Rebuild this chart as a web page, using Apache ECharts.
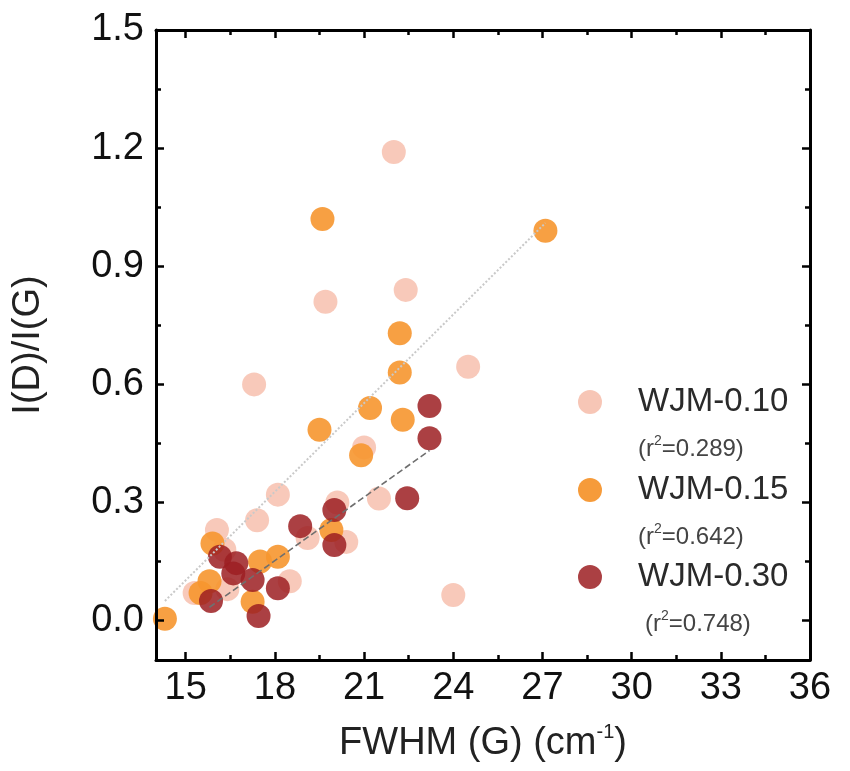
<!DOCTYPE html>
<html>
<head>
<meta charset="utf-8">
<script src="https://cdn.jsdelivr.net/npm/echarts@6/dist/echarts.min.js"></script>
<style>
  html, body { margin: 0; padding: 0; background: #fff; }
  #chart { width: 850px; height: 771px; }
</style>
</head>
<body>
<div id="chart"></div>
<script>
// Series names and goodness of fit shown in the legend
const seriesNames = ['WJM-0.10', 'WJM-0.15', 'WJM-0.30'];
const rSquared = ['0.289', '0.642', '0.748'];

// Tick positions
const xMajorTicks = [15, 18, 21, 24, 27, 30, 33, 36];
const xMinorTicks = [16.5, 19.5, 22.5, 25.5, 28.5, 31.5, 34.5];
const yMajorTicks = [0, 0.3, 0.6, 0.9, 1.2, 1.5];
const yMinorTicks = [0.15, 0.45, 0.75, 1.05, 1.35];

// FWHM(G) [cm^-1] vs I(D)/I(G)
const wjm010 = [
  [22.0, 1.19], [19.7, 0.81], [22.4, 0.84], [24.5, 0.645], [17.3, 0.60],
  [21.0, 0.44], [18.1, 0.32], [17.4, 0.255], [16.05, 0.23], [21.5, 0.31],
  [20.1, 0.30], [19.1, 0.21], [20.4, 0.20], [16.3, 0.18], [18.5, 0.10],
  [16.4, 0.08], [15.3, 0.07], [24.0, 0.065]
];
const wjm015 = [
  [19.6, 1.02], [27.1, 0.99], [22.2, 0.73], [22.2, 0.63], [21.2, 0.54],
  [22.3, 0.51], [19.5, 0.485], [20.9, 0.42], [19.9, 0.23], [15.9, 0.196],
  [18.1, 0.162], [17.5, 0.15], [15.8, 0.10], [15.5, 0.07], [17.25, 0.048],
  [14.3, 0.005]
];
const wjm030 = [
  [23.2, 0.545], [23.2, 0.463], [22.45, 0.311], [20.0, 0.281], [18.85, 0.24],
  [20.0, 0.192], [16.15, 0.162], [16.7, 0.146], [16.6, 0.12], [17.25, 0.103],
  [18.1, 0.082], [15.85, 0.05], [17.45, 0.012]
];

// Linear fit end points
const fit015 = [[14.3, 0.05], [27.1, 1.01]];
const fit030 = [[15.8, 0.034], [23.2, 0.432]];

const colors = ['#f7c3b2', '#f6962f', '#9c1f22'];
const font = 'Arial, "Liberation Sans", sans-serif';

const chart = echarts.init(document.getElementById('chart'), null, { renderer: 'canvas' });

const frameLine = { show: true, onZero: false, lineStyle: { color: '#000', width: 3 } };
const hiddenLine = { show: false, onZero: false };
const tickStyle = { color: '#000', width: 2.5 };

function xAxisDef(position, ticks, len, withLabels) {
  return {
    type: 'value', min: 14, max: 36, position: position, z: 5,
    axisLine: withLabels !== null ? frameLine : hiddenLine,
    splitLine: { show: false },
    axisTick: { show: true, inside: true, length: len, customValues: ticks, lineStyle: tickStyle },
    axisLabel: withLabels ? {
      show: true, customValues: ticks, fontSize: 38, color: '#111', margin: 10, fontFamily: font
    } : { show: false }
  };
}
function yAxisDef(position, ticks, len, withLabels) {
  return {
    type: 'value', min: -0.1, max: 1.5, position: position, z: 5,
    axisLine: withLabels !== null ? frameLine : hiddenLine,
    splitLine: { show: false },
    axisTick: { show: true, inside: true, length: len, customValues: ticks, lineStyle: tickStyle },
    axisLabel: withLabels ? {
      show: true, customValues: ticks, fontSize: 38, color: '#111', margin: 12, fontFamily: font,
      formatter: v => v.toFixed(1)
    } : { show: false }
  };
}

const xMain = xAxisDef('bottom', xMajorTicks, 8, true);
xMain.name = '{a|FWHM (G) (cm}{s|-1}{a|)}';
xMain.nameLocation = 'middle';
xMain.nameGap = 62;
xMain.nameTextStyle = {
  rich: {
    a: { fontSize: 38, color: '#222', fontFamily: font, lineHeight: 44 },
    s: { fontSize: 20, color: '#222', fontFamily: font, verticalAlign: 'top', lineHeight: 44 }
  }
};

const yMain = yAxisDef('left', yMajorTicks, 8, true);
yMain.name = 'I(D)/I(G)';
yMain.nameLocation = 'middle';
yMain.nameGap = 108;
yMain.nameTextStyle = { fontSize: 38, color: '#222', fontFamily: font };

const scatterSeries = [wjm010, wjm015, wjm030].map((d, i) => ({
  name: seriesNames[i],
  type: 'scatter',
  data: d,
  symbol: 'circle',
  symbolSize: 24,
  z: 2 + i,
  itemStyle: { color: colors[i], opacity: [0.9, 0.9, 0.85][i] }
}));

const fitSeries = [
  { data: fit015, color: '#c9c9c9', type: 'dotted', width: 2 },
  { data: fit030, color: '#6f6f6f', type: 'dashed', width: 1.6 }
].map(f => ({
  type: 'line',
  data: f.data,
  showSymbol: false,
  symbol: 'none',
  z: 6,
  silent: true,
  lineStyle: { color: f.color, type: f.type, width: f.width }
}));

// Legend: circle markers with the series name and r^2 below
const legendY = [402, 490, 577];
const legendR2X = [638, 638, 645];
const graphics = [];
seriesNames.forEach((name, i) => {
  graphics.push({
    type: 'circle', shape: { cx: 590, cy: legendY[i], r: 12 },
    style: { fill: colors[i], opacity: i === 2 ? 0.85 : 0.95 }, z: 20
  });
  graphics.push({
    type: 'text', x: 638, y: legendY[i],
    style: { text: name, font: '33px ' + font, fill: '#2a2a2a', verticalAlign: 'middle' }, z: 20
  });
  graphics.push({
    type: 'text', x: legendR2X[i], y: legendY[i] + 47,
    style: {
      text: '{a|(r}{s|2}{a|=' + rSquared[i] + ')}',
      verticalAlign: 'middle',
      rich: {
        a: { fontSize: 24, fontFamily: font, fill: '#444', lineHeight: 30 },
        s: { fontSize: 14, fontFamily: font, fill: '#444', verticalAlign: 'top', lineHeight: 30 }
      }
    },
    z: 20
  });
});

chart.setOption({
  animation: false,
  backgroundColor: '#fff',
  grid: { left: 156, right: 40, top: 30, bottom: 111, show: false },
  xAxis: [
    xMain,
    xAxisDef('top', xMajorTicks, 8, false),
    xAxisDef('bottom', xMinorTicks, 5, null),
    xAxisDef('top', xMinorTicks, 5, null)
  ],
  yAxis: [
    yMain,
    yAxisDef('right', yMajorTicks, 8, false),
    yAxisDef('left', yMinorTicks, 5, null),
    yAxisDef('right', yMinorTicks, 5, null)
  ],
  series: scatterSeries.concat(fitSeries),
  graphic: graphics
});
</script>
</body>
</html>
